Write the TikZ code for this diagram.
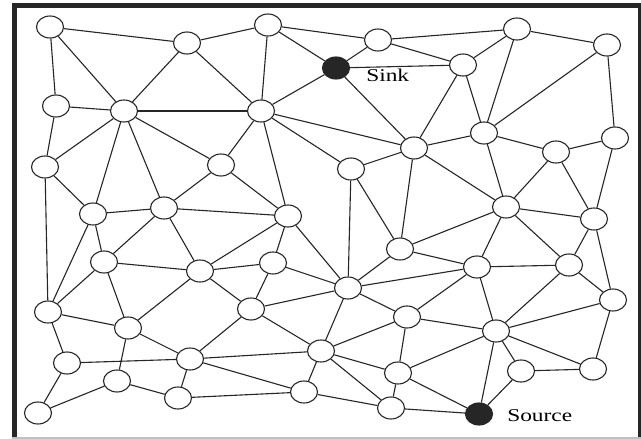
\documentclass[tikz,border=0pt]{standalone}
\usepackage{fontspec}
\setmainfont{Liberation Serif}
\usepackage{tikz}
\usetikzlibrary{shapes.geometric}
\tikzset{
  mote/.style={ellipse,draw=black!85,line width=1.1pt,fill=white,minimum width=27pt,minimum height=22pt,inner sep=0pt},
  hub/.style={mote,fill=black!85},
  link/.style={line width=1.1pt,black!85},
  tag/.style={font=\fontsize{18}{20}\selectfont,anchor=base west,inner sep=0pt,xscale=1.3}
}

\begin{document}
\begin{tikzpicture}[x=1pt,y=-1pt]
    \useasboundingbox (0,0) rectangle (641,439);
    \fill[white] (0,0) rectangle (641,439);
    \fill[black!85] (12,3) rectangle (17,439);
    \fill[black!85] (12,3) rectangle (641,8);
    \fill[black!85] (638,3) rectangle (641,437);
    \fill[black!25] (12,437) rectangle (641,439);

    \foreach \name/\x/\y in {n1/50/27, n2/187/43, n3/268/25, n5/378/40, n6/463/65,
      n7/517/29, n8/607/45, n9/56/106, n10/124/111, n11/261/111, n12/484/133,
      n13/414/148, n14/556/152, n15/615/138, n16/45/167, n17/221/165, n18/351/169,
      n19/93/214, n20/164/208, n21/288/216, n22/506/207, n23/594/219, n24/104/262,
      n25/200/271, n26/273/263, n27/400/249, n28/477/267, n29/569/265, n30/48/312,
      n31/128/328, n32/251/309, n33/348/288, n34/407/317, n35/496/331, n36/613/300,
      n37/67/363, n38/190/359, n39/321/351, n41/117/381, n42/304/392, n43/398/373,
      n44/521/371, n45/593/369, n46/38/413, n47/178/398, n48/391/408} {
      \node[mote] (\name) at (\x,\y) {};
    }
    \node[hub] (sink) at (336,68) {};
    \node[hub] (source) at (479,414) {};
    \node[tag] (sinktag) at (366,81) {Sink};
    \node[tag] (sourcetag) at (507,421) {Source};

    \foreach \a/\b in {n1/n2, n1/n9, n1/n10, n2/n3, n2/n10, n2/n11,
      n3/n5, n3/sink, n3/n11, n5/sink, n5/n7, n5/n6,
      sink/n6, sink/n11, sink/n13, n6/n7, n6/n12, n6/n13,
      n7/n8, n7/n12, n8/n12, n8/n15, n9/n10, n9/n16,
      n10/n11, n10/n16, n10/n17, n10/n19, n10/n20,
      n11/n13, n11/n17, n11/n18, n11/n21,
      n12/n13, n12/n14, n12/n22, n13/n18, n13/n22, n13/n27,
      n14/n15, n14/n22, n14/n23, n15/n23, n16/n19, n16/n30,
      n17/n20, n17/n21, n18/n27, n18/n33,
      n19/n20, n19/n24, n19/n30, n20/n21, n20/n24, n20/n25,
      n21/n25, n21/n26, n21/n33, n22/n23, n22/n27, n22/n28, n22/n29,
      n23/n29, n23/n36, n24/n25, n24/n30, n24/n31,
      n25/n26, n25/n31, n25/n32, n26/n32, n26/n33, n27/n28, n27/n33,
      n28/n29, n28/n33, n28/n34, n28/n35, n29/n35, n29/n36,
      n30/n31, n30/n37, n31/n38, n31/n41,
      n32/n33, n32/n38, n32/n39, n33/n34, n33/n39,
      n34/n35, n34/n39, n34/n43,
      n35/n36, n35/n43, n35/n44, n35/n45, n35/source, n36/n45,
      n37/n38, n37/n46, n38/n39, n38/n42, n38/n47,
      n39/n42, n39/n43, n39/n48, n41/n46, n41/n47,
      n42/n47, n42/n48, n43/n48, n43/source, n44/n45, n44/source, n48/source} {
      \draw[link] (\a) -- (\b);
    }
\end{tikzpicture}
\end{document}
